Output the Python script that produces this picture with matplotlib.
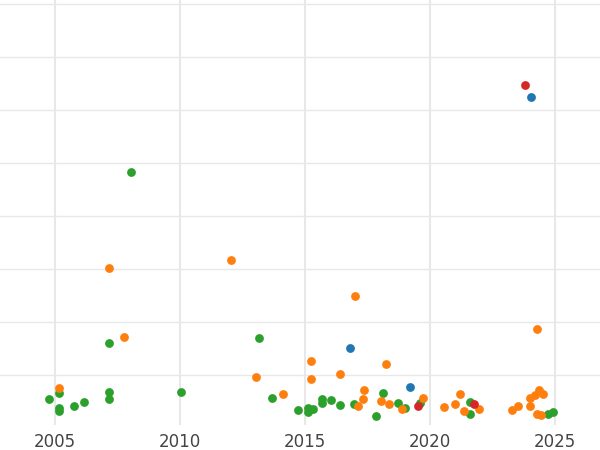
import matplotlib
matplotlib.use("Agg")
import matplotlib.pyplot as plt
import numpy as np

def conv(pts):
    a = np.array(pts, float)
    return (a[:, 0] - 55) / 25 + 2005, (428 - a[:, 1]) / 53

green_px = [(49,399),(59,393),(59,408),(59,411),(74,406),(84,402),(109,392),(109,399),(109,343),(131,172),(181,392),(259,338),(272,398),(298,410),(308,408),(308,412),(313,409),(322,399),(322,403),(331,400),(340,405),(354,404),(376,416),(383,393),(398,403),(405,408),(420,403),(470,402),(470,414),(548,414),(553,412)]
orange_px = [(59,388),(109,268),(124,337),(231,260),(256,377),(283,394),(311,361),(311,379),(340,374),(355,296),(358,406),(363,399),(364,390),(381,401),(386,364),(389,404),(402,409),(423,398),(444,407),(455,404),(460,394),(464,411),(479,409),(512,410),(518,406),(530,398),(530,406),(535,395),(537,329),(539,390),(543,394),(537,414),(541,415)]
red_px = [(525,85),(418,406),(474,404)]
blue_px = [(531,97),(350,348),(410,387)]

fig = plt.figure(figsize=(6, 4.5), dpi=100)
ax = fig.add_axes([0, 25/450, 1, 425/450])
for pts, c in [(green_px, "#2ca02c"), (orange_px, "#ff7f0e"), (blue_px, "#1f77b4"), (red_px, "#d62728")]:
    x, y = conv(pts)
    ax.scatter(x, y, s=40, color=c, zorder=3, linewidths=0)
ax.set_xlim(2002.8, 2026.8)
ax.set_ylim((428 - 425) / 53, 428 / 53)
ax.set_yticks(range(1, 9))
ax.set_yticklabels([])
ax.tick_params(axis="y", length=0)
ax.set_xticks([2005, 2010, 2015, 2020, 2025])
ax.tick_params(axis="x", length=0, labelsize=12, colors="#444444", pad=6)
ax.grid(True, color="#e8e8e8", linewidth=1, zorder=0)
ax.xaxis.grid(True, linewidth=1.5)
for s in ax.spines.values():
    s.set_visible(False)
fig.savefig("out.png", dpi=100)
